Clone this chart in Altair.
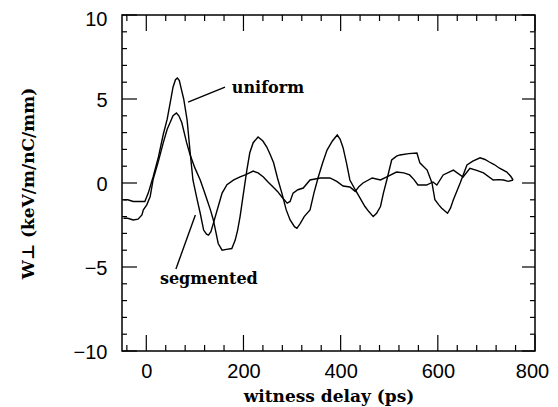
import altair as alt
import pandas as pd

# ---- data ----
uniform_x = [-47, -38, -27, -15, -3, 4, 14, 25, 35, 43, 50, 55, 60, 64, 68, 72, 77, 84, 90,
             96, 104, 111, 118, 124, 128, 133, 138, 148, 156, 166, 180, 193, 205, 220, 230,
             241, 251, 261, 270, 279, 290, 296, 302, 312, 323, 337, 358, 378, 392, 405, 419,
             430, 438, 446, 465, 482, 495, 515, 530, 542, 551, 559, 577, 590, 598, 611, 632,
             652, 666, 680, 694, 714, 725, 735, 745, 755]
uniform_y = [-1.0, -1.0, -1.1, -1.1, -1.1, -0.6, 0.36, 1.55, 2.9, 3.8, 4.9, 5.7, 6.15, 6.25,
             6.1, 5.6, 5.0, 3.75, 1.9, 0.18, -0.9, -1.8, -2.8, -3.05, -3.1, -2.9, -2.4, -1.4,
             -0.6, -0.1, 0.18, 0.36, 0.5, 0.71, 0.6, 0.36, 0.05, -0.24, -0.5, -0.83, -1.2,
             -1.1, -0.6, -0.4, -0.3, 0.18, 0.3, 0.3, 0.1, -0.18, -0.24, -0.5, -0.2, 0.0, 0.3,
             0.18, 0.36, 0.65, 0.6, 0.48, 0.2, -0.12, -0.12, 0.06, -0.12, 0.48, 0.77, 0.36,
             0.88, 0.75, 0.6, 0.18, 0.2, 0.18, 0.1, 0.18]

segmented_x = [-47, -38, -27, -17, -9, -6, 1, 8, 14, 25, 35, 43, 49, 55, 62, 67, 73, 83, 90,
               100, 111, 118, 125, 132, 138, 143, 148, 156, 165, 176, 183, 188, 193, 198, 204,
               207, 213, 220, 230, 240, 248, 255, 262, 270, 279, 288, 296, 305, 310, 317, 325,
               337, 345, 354, 363, 372, 383, 393, 399, 405, 412, 419, 430, 440, 450, 458, 467,
               474, 482, 488, 495, 505, 515, 522, 540, 557, 563, 570, 578, 588, 594, 602, 608,
               620, 626, 632, 646, 660, 672, 687, 697, 706, 716, 727, 742, 750, 755]
segmented_y = [-2.1, -2.1, -2.2, -2.15, -1.9, -1.6, -1.3, -0.8, 0.2, 1.3, 2.4, 3.2, 3.6, 4.0,
               4.17, 4.0, 3.6, 2.4, 1.7, 0.9, 0.18, -0.4, -1.0, -1.6, -2.2, -2.9, -3.6, -4.0,
               -3.95, -3.9, -3.4, -2.8, -2.0, -1.0, 0.18, 0.77, 1.8, 2.4, 2.74, 2.5, 2.14, 1.7,
               1.2, 0.3, -0.6, -1.6, -2.2, -2.6, -2.7, -2.4, -2.0, -1.6, -0.6, 0.36, 1.2, 1.96,
               2.5, 2.86, 2.6, 2.1, 1.2, 0.18, -0.4, -0.9, -1.4, -1.7, -2.0, -1.8, -1.4, -0.6,
               0.18, 1.37, 1.6, 1.67, 1.75, 1.78, 1.2, 1.0, 0.77, 0.0, -1.0, -1.3, -1.5, -1.8,
               -1.5, -1.0, 0.0, 1.07, 1.3, 1.5, 1.4, 1.25, 1.1, 0.88, 0.65, 0.4, 0.18]

x_major = [0, 200, 400, 600, 800]
x_minor = [-40, 40, 80, 120, 160, 240, 280, 320, 360, 440, 480, 520, 560, 640, 680, 720, 760]
y_major = [-10, -5, 0, 5, 10]
y_minor = [-9, -8, -7, -6, -4, -3, -2, -1, 1, 2, 3, 4, 6, 7, 8, 9]

labels_text = ["uniform", "segmented"]
labels_x = [176, 28]
labels_y = [5.36, -6.0]
pointer_x = [86, 61]
pointer_y = [4.82, -5.12]
pointer_x2 = [162, 101]
pointer_y2 = [5.71, -1.9]

# ---- chart ----
W, H = 413, 336
xs = alt.Scale(domain=[-50, 800], nice=False, zero=False)
ys = alt.Scale(domain=[-10, 10], nice=False, zero=False)
serif = "DejaVu Serif"
sans = "Liberation Sans"

x_axis = alt.Axis(values=x_major, ticks=False, domain=False, grid=False,
                  labelFont=sans, labelFontSize=20, labelColor="black",
                  labelPadding=10, labelFlush=False, labelOverlap=False,
                  labelOffset={"condition": {"test": "datum.value == 800", "value": -3},
                               "value": 0},
                  title="witness delay (ps)", titleFont=serif, titleFontSize=17,
                  titleFontWeight="bold", titleColor="black",
                  titleX=W / 2, titleY=50, titleBaseline="alphabetic")
y_axis = alt.Axis(values=y_major, ticks=False, domain=False, grid=False,
                  labelFont=sans, labelFontSize=20, labelColor="black",
                  labelPadding=15, labelFlush=False, labelOverlap=False,
                  labelBaseline="middle",
                  labelOffset={"condition": {"test": "datum.value == 10", "value": 4},
                               "value": 1},
                  title="W⊥ (keV/m/nC/mm)", titleFont=serif, titleFontSize=17,
                  titleFontWeight="bold", titleColor="black",
                  titleX=-94, titleY=H / 2, titleBaseline="middle")

df = pd.concat([
    pd.DataFrame({"delay": uniform_x, "wake": uniform_y, "series": "uniform"}),
    pd.DataFrame({"delay": segmented_x, "wake": segmented_y, "series": "segmented"}),
])

lines = alt.Chart(df).mark_line(color="black", strokeWidth=1.4, clip=True).encode(
    x=alt.X("delay:Q", scale=xs, axis=x_axis),
    y=alt.Y("wake:Q", scale=ys, axis=y_axis),
    detail="series:N",
)


def xticks(vals, length, top):
    d = pd.DataFrame({"delay": vals})
    if top:
        yy, yy2 = alt.value(0), alt.value(length)
    else:
        yy, yy2 = alt.value(H), alt.value(H - length)
    return alt.Chart(d).mark_rule(color="black", strokeWidth=1.2).encode(
        x=alt.X("delay:Q", scale=xs, axis=x_axis), y=yy, y2=yy2)


def yticks(vals, length, right):
    d = pd.DataFrame({"wake": vals})
    if right:
        xx, xx2 = alt.value(W), alt.value(W - length)
    else:
        xx, xx2 = alt.value(0), alt.value(length)
    return alt.Chart(d).mark_rule(color="black", strokeWidth=1.2).encode(
        y=alt.Y("wake:Q", scale=ys, axis=y_axis), x=xx, x2=xx2)


ticks = [
    xticks(x_major, 16, False), xticks(x_minor, 6, False),
    xticks(x_major, 16, True), xticks(x_minor, 6, True),
    yticks(y_major, 15, False), yticks(y_minor, 5, False),
    yticks(y_major, 13, True), yticks(y_minor, 5, True),
]

ann = pd.DataFrame({"t": labels_text, "delay": labels_x, "wake": labels_y})
texts = alt.Chart(ann).mark_text(font=serif, fontSize=16, fontWeight="bold", color="black",
                                 align="left", baseline="alphabetic").encode(
    x=alt.X("delay:Q", scale=xs, axis=x_axis), y=alt.Y("wake:Q", scale=ys, axis=y_axis),
    text="t:N")

ptr = pd.DataFrame({"delay": pointer_x, "wake": pointer_y, "x2": pointer_x2, "y2": pointer_y2})
pointers = alt.Chart(ptr).mark_rule(color="black", strokeWidth=1.4).encode(
    x=alt.X("delay:Q", scale=xs, axis=x_axis), y=alt.Y("wake:Q", scale=ys, axis=y_axis),
    x2="x2:Q", y2="y2:Q")

chart = alt.layer(lines, *ticks, texts, pointers).properties(
    width=W, height=H,
    autosize=alt.AutoSizeParams(type="none"),
    padding={"left": 114, "top": 7, "right": 15, "bottom": 56},
    background="white",
).configure_view(stroke="black", strokeWidth=1.5)

chart.save("out.html", embed_options={"renderer": "svg", "actions": False})
